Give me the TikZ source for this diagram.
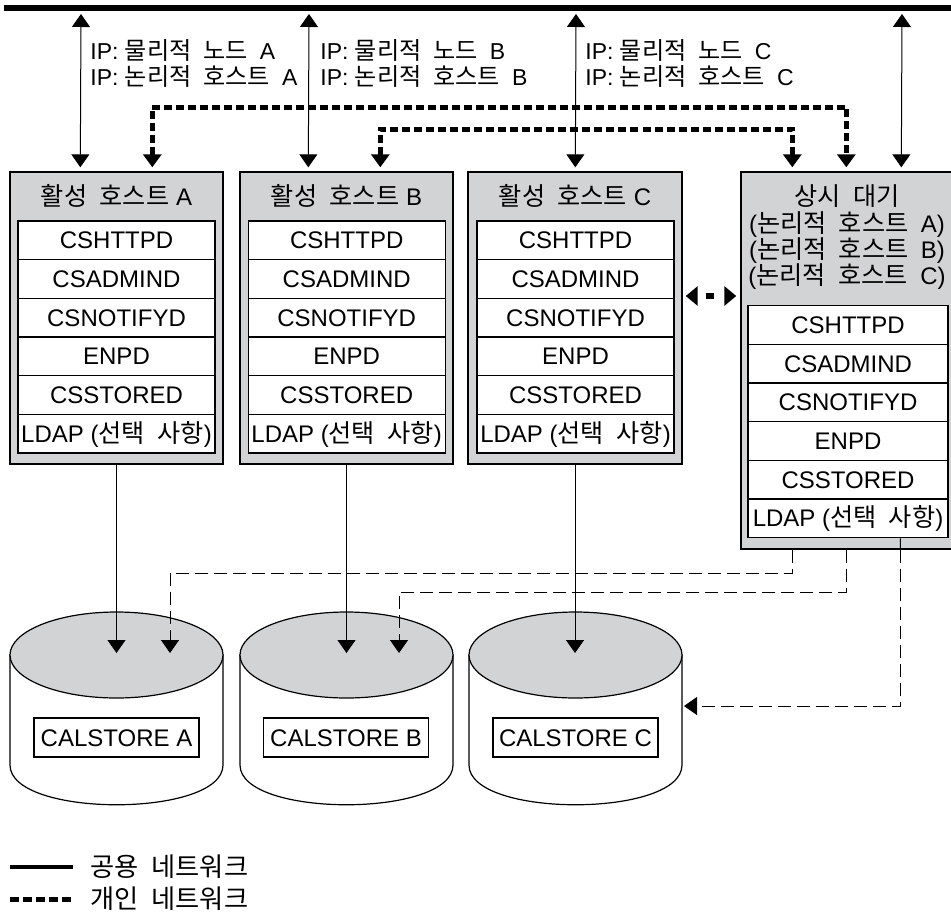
\documentclass[tikz,border=0pt]{standalone}
\usepackage{fontspec}
\setmainfont{Liberation Sans}
\newfontfamily\kr[WordSpace=2.2,Scale=1.05]{Noto Sans CJK KR}
\newcommand\K[1]{{\kr #1}}
\usetikzlibrary{arrows.meta,calc,fit}
\definecolor{hostgray}{RGB}{210,211,213}
\begin{document}
\begin{tikzpicture}[x=0.5pt,y=-0.5pt,
  font=\fontsize{12}{14}\selectfont,
  >={Triangle[width=9pt,length=6.5pt]},
  hostbox/.style={draw=black, line width=0.7pt, fill=hostgray, inner sep=0pt},
  row/.style={draw=black, line width=0.6pt, fill=white, minimum width=98.5pt, minimum height=19.33pt, inner sep=0pt, text height=8.5pt, text depth=0pt},
  srow/.style={row, minimum width=100pt},
  lbl/.style={inner sep=0pt, anchor=base},
  iplbl/.style={inner sep=0pt, anchor=base west, font=\fontsize{11.5}{13}\selectfont},
  pub/.style={line width=0.5pt, <->},
  priv/.style={line width=2.5pt, dash pattern=on 4pt off 2pt, line join=miter},
  thinline/.style={line width=0.5pt},
  dsh/.style={line width=0.5pt, dash pattern=on 6.5pt off 3pt},
  calbox/.style={draw=black, line width=0.6pt, fill=white, minimum width=82.5pt, minimum height=19.5pt, inner sep=0pt, text height=8.5pt, text depth=0pt},
  cylside/.style={draw=black, line width=0.6pt, fill=white},
  cyltop/.style={draw=black, line width=0.6pt, fill=hostgray},
  legtext/.style={inner sep=0pt, anchor=base west, font=\fontsize{12.5}{14}\selectfont}
]
\useasboundingbox (0,0) rectangle (951,920);
\clip (0,0) rectangle (951,920);

% public network bus
\coordinate (busW) at (4,8);
\coordinate (busE) at (951,8);
\draw[line width=3pt] (busW) -- (busE);

% host boxes
\node[hostbox, fit={(10,172) (223,464)}] (hA) {};
\node[hostbox, fit={(240,172) (453,464)}] (hB) {};
\node[hostbox, fit={(468,172) (682,464)}] (hC) {};
\node[hostbox, fit={(741,172) (960,549)}] (hS) {};

\node[lbl] (tA) at (116.5,205) {\K{활성 호스트} A};
\node[lbl] (tB) at (346.5,205) {\K{활성 호스트} B};
\node[lbl] (tC) at (575,205) {\K{활성 호스트} C};

\node[lbl] (tS0) at (847,205) {\K{상시 대기}};
\node[lbl] (tS1) at (847,232) {(\K{논리적 호스트 }A)};
\node[lbl] (tS2) at (847,258) {(\K{논리적 호스트 }B)};
\node[lbl] (tS3) at (847,284) {(\K{논리적 호스트 }C)};

\foreach \h/\cx in {A/116.5, B/346.7, C/575.5} {
  \foreach \t [count=\i] in {CSHTTPD,CSADMIND,CSNOTIFYD,ENPD,CSSTORED,{LDAP (\K{선택 사항})}} {
    \node[row] (r\h\i) at (\cx, {221+38.667*(\i-0.5)}) {\t};
  }
}
\foreach \t [count=\i] in {CSHTTPD,CSADMIND,CSNOTIFYD,ENPD,CSSTORED,{LDAP (\K{선택 사항})}} {
  \node[srow] (rS\i) at (848, {305.7+38.667*(\i-0.5)}) {\t};
}

% IP labels
\node[iplbl] (ipA1) at (90,60) {IP: \K{물리적 노드 }A};
\node[iplbl] (ipA2) at (90,86) {IP: \K{논리적 호스트 }A};
\node[iplbl] (ipB1) at (320,60) {IP: \K{물리적 노드 }B};
\node[iplbl] (ipB2) at (320,86) {IP: \K{논리적 호스트 }B};
\node[iplbl] (ipC1) at (585,60) {IP: \K{물리적 노드 }C};
\node[iplbl] (ipC2) at (585,86) {IP: \K{논리적 호스트 }C};

% public network arrows
\draw[pub] ($(busW)+(77,6)$) -- ($(hA.north west)+(71,-4)$);
\draw[pub] ($(busW)+(305,6)$) -- ($(hB.north west)+(69,-4)$);
\draw[pub] ($(busW)+(572,6)$) -- ($(hC.north west)+(108,-4)$);
\draw[pub] ($(busW)+(898,6)$) -- ($(hS.north west)+(161,-4)$);

% private network
\draw[priv,<->] ($(hA.north west)+(143,-4)$) |- ($(hS.north west)+(106,-64)$) -- ($(hS.north west)+(106,-4)$);
\draw[priv,<->] ($(hB.north west)+(141,-4)$) |- ($(hS.north west)+(52,-42)$) -- ($(hS.north west)+(52,-4)$);
\coordinate (hbline) at (0,296);
\draw[line width=2.7pt, dash pattern=on 4pt off 9pt, dash phase=8.5pt,
  {Triangle[width=9.5pt,length=6pt]}-{Triangle[width=9.5pt,length=6pt]}]
  ($(hC.east |- hbline)+(3,0)$) -- ($(hS.west |- hbline)+(-4,0)$);

% cylinders
\foreach \n/\cx in {A/116.5, B/346.5, C/575.5} {
  \path[cylside] (\cx-106.5,655) -- (\cx-106.5,765) .. controls (\cx-106.5,818) and (\cx+106.5,818) .. (\cx+106.5,765) -- (\cx+106.5,655) -- cycle;
  \draw[cyltop] (\cx,655) ellipse [x radius=106.5, y radius=43];
  \coordinate (c\n) at (\cx,655);
}
\node[calbox] (calA) at (116.5,737.5) {CALSTORE A};
\node[calbox] (calB) at (346,737.5) {CALSTORE B};
\node[calbox] (calC) at (575.5,737.5) {CALSTORE C};

% host to store arrows
\draw[thinline,->] (hA.south) -- ($(hA.south |- cA)+(0,-2)$);
\draw[thinline,->] (hB.south) -- ($(hB.south |- cB)+(0,-2)$);
\draw[thinline,->] (hC.south) -- ($(hC.south |- cC)+(0,-2)$);

% standby to stores (dashed)
\draw[dsh,->] ($(hS.south west)+(52,0)$) -- ($(hS.south west)+(52,24)$) -| ($(cA)+(53.5,-2)$);
\draw[dsh,->] ($(hS.south west)+(106,0)$) -- ($(hS.south west)+(106,43)$) -| ($(cB)+(52.5,-2)$);
\draw[thinline] ($(rS6.south west)+(153,0)$) -- ($(hS.south west)+(160,0)$);
\draw[dsh,->] ($(hS.south west)+(160,0)$) |- ($(cC)+(108.5,51)$);

% legend
\coordinate (lg1a) at (10,867);
\coordinate (lg1b) at (73,867);
\coordinate (lg2a) at (10,899);
\coordinate (lg2b) at (73,899);
\draw[line width=2pt] (lg1a) -- (lg1b);
\draw[line width=2.5pt, dash pattern=on 4.5pt off 2pt] (lg2a) -- (lg2b);
\node[legtext] (lgt1) at (90,876) {\K{공용 네트워크}};
\node[legtext] (lgt2) at (90,908) {\K{개인 네트워크}};
\end{tikzpicture}
\end{document}
